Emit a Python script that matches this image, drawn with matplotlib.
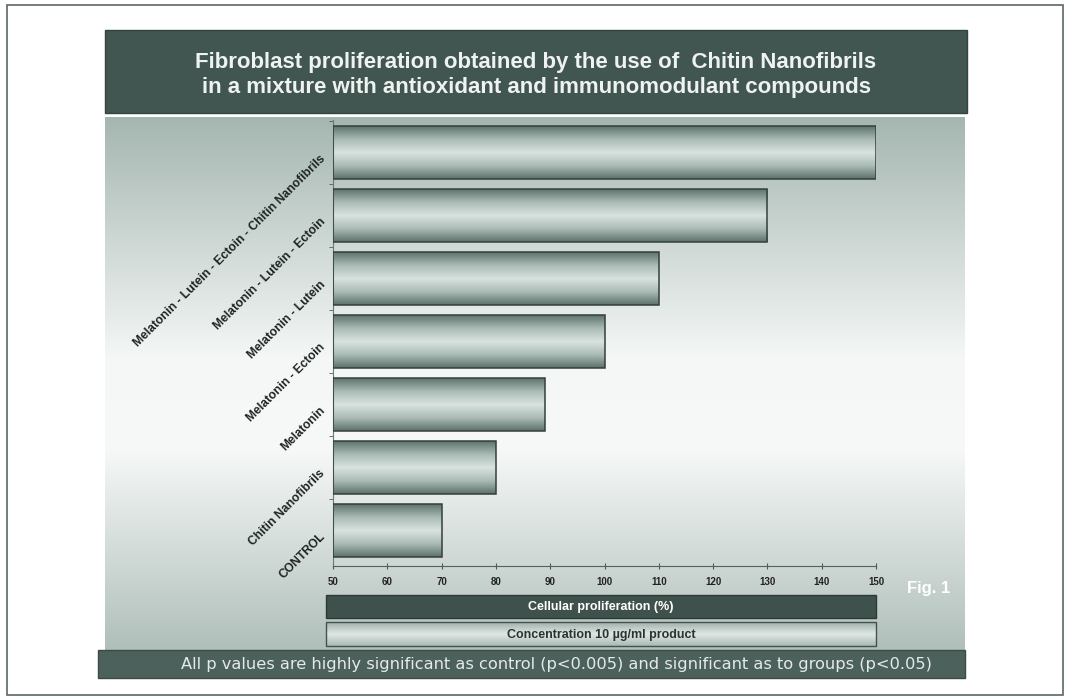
#!/usr/bin/env python

import numpy as np
import matplotlib
matplotlib.use('Agg')
import matplotlib.pyplot as plt
from matplotlib.patches import Rectangle
from matplotlib.colors import LinearSegmentedColormap

# data, bottom to top
groups = ['CONTROL', 'Chitin Nanofibrils', 'Melatonin', 'Melatonin - Ectoin',
          'Melatonin - Lutein', 'Melatonin - Lutein - Ectoin',
          'Melatonin - Lutein - Ectoin - Chitin Nanofibrils']
proliferation = [70, 80, 89, 100, 110, 130, 150]
xticks = [50, 60, 70, 80, 90, 100, 110, 120, 130, 140, 150]

title = ('Fibroblast proliferation obtained by the use of  Chitin Nanofibrils\n'
         'in a mixture with antioxidant and immunomodulant compounds')
footer = ('All p values are highly significant as control (p<0.005) '
          'and significant as to groups (p<0.05)')

plt.rcParams['font.family'] = ['Liberation Sans', 'DejaVu Sans']

W, H = 1070, 699
fig = plt.figure(figsize=(W / 100., H / 100.), dpi=100)

# overlay in pixel coords for the decorations
bg = fig.add_axes([0, 0, 1, 1])
bg.set_xlim(0, W)
bg.set_ylim(H, 0)
bg.axis('off')

# outer frame
bg.add_patch(Rectangle((7, 5), 1056, 690, fill=False, ec='#5a6662', lw=1.2))

# panel gradient (gray top, white middle, gray bottom)
panel = LinearSegmentedColormap.from_list('panel', [
    (0.0, '#a5b6b1'), (0.45, '#f4f7f6'), (0.62, '#f7f9f8'), (1.0, '#b0bfba')])
grad = np.linspace(0, 1, 256).reshape(-1, 1)
bg.imshow(grad, cmap=panel, extent=(105, 965, 650, 117), aspect='auto', zorder=1)

# title box
bg.add_patch(Rectangle((105, 30), 862, 83, fc='#415651', ec='#33443f', lw=1, zorder=2))
bg.text(536, 75, title, ha='center', va='center', color='#eef2f0',
        fontsize=16, fontweight='bold', linespacing=1.3, zorder=3)

# x-axis caption boxes
bg.add_patch(Rectangle((326, 595), 550, 23, fc='#3f514c', ec='#2c3a36', lw=1, zorder=2))
bg.text(601, 607, 'Cellular proliferation (%)', ha='center', va='center',
        color='white', fontsize=9, fontweight='bold', zorder=3)
box = LinearSegmentedColormap.from_list('box', ['#9fb0ab', '#dfe7e4', '#a9b9b4'])
bg.imshow(grad, cmap=box, extent=(326, 876, 646, 622), aspect='auto', zorder=2)
bg.add_patch(Rectangle((326, 622), 550, 24, fill=False, ec='#44524e', lw=1, zorder=3))
bg.text(601, 635, 'Concentration 10 \u00b5g/ml product', ha='center', va='center',
        color='#2a332f', fontsize=9, fontweight='bold', zorder=3)

bg.text(929, 589, 'Fig. 1', ha='center', va='center', color='white',
        fontsize=12, fontweight='bold', zorder=3)

# footer
bg.add_patch(Rectangle((98, 650), 867, 28, fc='#4c615b', ec='#3a4c47', lw=1, zorder=2))
bg.text(556, 664, footer, ha='center', va='center', color='#e4eae7',
        fontsize=11.7, family='DejaVu Sans', zorder=3)

# main chart
ax = fig.add_axes([333. / W, 1 - 566. / H, 543. / W, 446. / H])
ax.patch.set_alpha(0)
ypos = np.arange(len(groups))
bars = ax.barh(ypos, [v - 50 for v in proliferation], left=50, height=0.84,
               facecolor='none', edgecolor='#33403c', linewidth=1.1, zorder=3)

barcm = LinearSegmentedColormap.from_list('bar', [
    (0.0, '#5f736d'), (0.25, '#aabbb6'), (0.5, '#d9e2df'), (0.75, '#aabbb6'), (1.0, '#5c706a')])
for b in bars:
    x0, y0 = b.get_x(), b.get_y()
    ax.imshow(grad, cmap=barcm, extent=(x0, x0 + b.get_width(), y0, y0 + b.get_height()),
              aspect='auto', zorder=2)

ax.set_xlim(50, 150)
ax.set_ylim(-0.57, 6.52)
ax.set_xticks(xticks)
ax.set_xticklabels([str(t) for t in xticks], fontsize=7, fontweight='bold', color='#222')
ax.tick_params(axis='x', direction='inout', length=4, color='#555', pad=6)

ax.set_yticks(ypos + 0.5, minor=True)
ax.set_yticks(ypos)
ax.set_yticklabels(groups, rotation=45, ha='right', va='top', rotation_mode='anchor',
                   fontsize=8.7, fontweight='bold', color='#1e2422')
ax.tick_params(axis='y', which='major', length=0, pad=10)
ax.tick_params(axis='y', which='minor', length=3, color='#555', direction='out')

for s in ['top', 'right']:
    ax.spines[s].set_visible(False)
ax.spines['left'].set_color('#6d7a76')
ax.spines['bottom'].set_color('#555f5c')

plt.savefig('out.png', dpi=100)
